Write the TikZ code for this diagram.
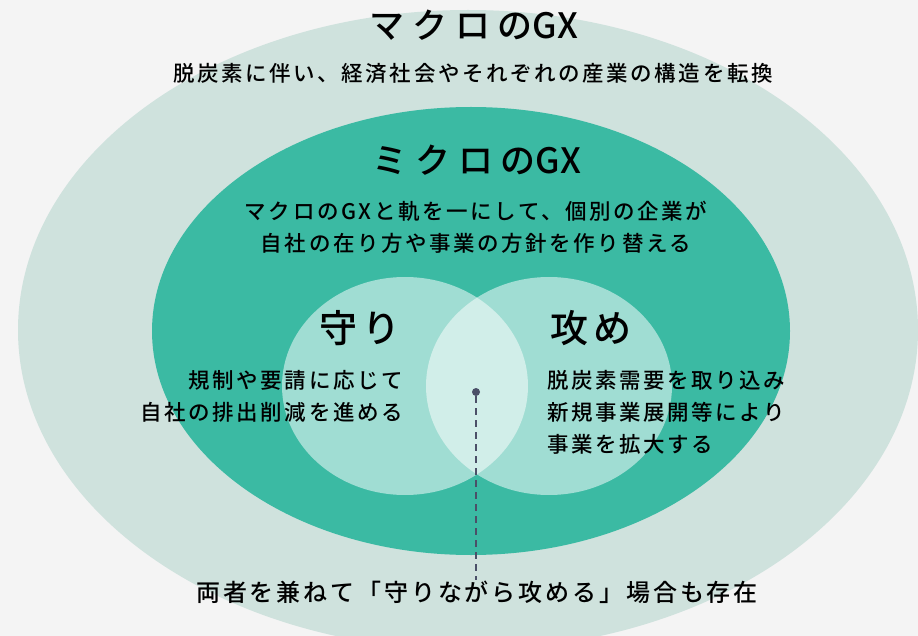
\documentclass[tikz,border=0pt]{standalone}
\usepackage{fontspec}
\setmainfont{Noto Sans CJK JP Medium}
\newfontfamily\jpfont[LetterSpace=12]{Noto Sans CJK JP Medium}
\newfontfamily\jptitle[LetterSpace=22]{Noto Sans CJK JP Medium}
\newfontfamily\jpplain{Noto Sans CJK JP Medium}
\usetikzlibrary{positioning}

\definecolor{bgcol}{HTML}{F4F4F4}
\definecolor{macrocol}{HTML}{CFE2DD}
\definecolor{microcol}{HTML}{3BBAA3}
\definecolor{circcol}{HTML}{A0DDD3}
\definecolor{bothcol}{HTML}{D1EEE9}
\definecolor{pincol}{HTML}{4B5068}

\tikzset{
    title/.style={font=\jptitle\fontsize{35}{40}\selectfont, text=black, inner sep=0pt},
    side/.style={font=\jpfont\fontsize{38}{44}\selectfont, text=black, inner sep=0pt},
    body/.style={font=\jpfont\fontsize{21.5}{32}\selectfont, text=black, inner sep=0pt},
    note/.style={font=\jpfont\fontsize{24}{30}\selectfont, text=black, inner sep=0pt}
}

\begin{document}
\begin{tikzpicture}[x=1pt, y=-1pt]
    % background
    \fill[bgcol] (0,0) rectangle (918,636);
    \useasboundingbox (0,0) rectangle (918,636);
    \begin{scope}
    \clip (0,0) rectangle (918,636);
    % macro / micro
    \fill[macrocol] (468,330) ellipse (450 and 320);
    \fill[microcol] (471,331) ellipse (319 and 224);
    % defence / attack
    \fill[circcol] (405,386) ellipse (123 and 109);
    \fill[circcol] (549,386) ellipse (123 and 109);
    \begin{scope}
        \clip (405,386) ellipse (123 and 109);
        \fill[bothcol] (549,386) ellipse (123 and 109);
    \end{scope}
    \end{scope}

    % texts
    \node[title] (macro) at (474,25) {マクロの{\jpplain GX}};
    \node[body] (macrotxt) at (473,73) {脱炭素に伴い、経済社会やそれぞれの産業の構造を転換};
    \node[title] (micro) at (477,160) {ミクロの{\jpplain GX}};
    \node[body, align=center] (microtxt) at (476,227) {マクロのGXと軌を一にして、個別の企業が\\自社の在り方や事業の方針を作り替える};
    \node[side] (defend) at (360,328) {守り};
    \node[side] (attack) at (591,328) {攻め};
    \node[body, align=right, anchor=east] (defendtxt) at (403,396) {規制や要請に応じて\\自社の排出削減を進める};
    \node[body, align=left, anchor=west] (attacktxt) at (547,412) {脱炭素需要を取り込み\\新規事業展開等により\\事業を拡大する};
    \node[note] (both) at (477,592) {両者を兼ねて「守りながら攻める」場合も存在};

    % pointer
    \node[circle, fill=pincol, inner sep=0pt, minimum size=8pt] (pin) at (476,392) {};
    \draw[pincol, line width=2pt, dash pattern=on 7pt off 5pt] (pin) -- (both.north -| pin);
\end{tikzpicture}
\end{document}
